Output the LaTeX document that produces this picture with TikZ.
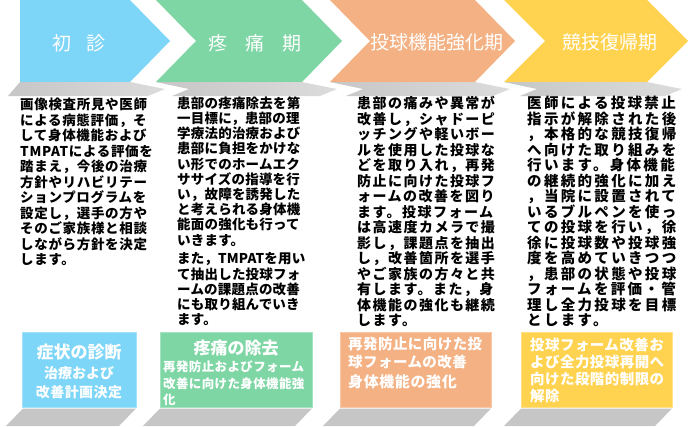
\documentclass[tikz,border=0pt]{standalone}
\usepackage{fontspec}
\newfontfamily\jp{Noto Sans CJK JP}
\definecolor{cblue}{HTML}{7DD5F7}
\definecolor{cgreen}{HTML}{7FD6A5}
\definecolor{corange}{HTML}{F4B183}
\definecolor{cyellow}{HTML}{FFD34F}
\definecolor{cgrayA}{HTML}{C6C6C6}
\definecolor{cgrayB}{HTML}{DCDCDC}
\newcommand\bodyfnt[3]{\jp\bfseries\fontsize{#1}{#2}\selectfont\addfontfeature{LetterSpace=#3}}
\newcommand\boxfnt[2]{\jp\bfseries\fontsize{#1}{#1}\selectfont\addfontfeature{LetterSpace=#2}}
\tikzset{
  shadowfill/.style={left color=cgrayA, right color=cgrayB, draw=none},
  floorfill/.style={fill=cgrayA, draw=none},
  titletext/.style={text=white, inner sep=0, font=\jp\fontsize{19}{22}\selectfont},
  bodytext/.style={anchor=north west, inner sep=0, align=left, text=black},
  boxtext/.style={text=white, inner sep=0},
  panel/.style={draw=#1!70!white, line width=0.6pt, fill=#1},
}
\begin{document}
\begin{tikzpicture}[x=1pt,y=-1pt]
\useasboundingbox (0,0) rectangle (690,426);
% chevrons
\fill[cblue]   (20,0) -- (130,0) -- (170,41) -- (130,82) -- (20,82) -- cycle;
\fill[cgreen]  (156,0) -- (302,0) -- (342,41) -- (302,82) -- (156,82) -- (196,41) -- cycle;
\fill[corange] (330,0) -- (475,0) -- (515,41) -- (475,82) -- (330,82) -- (370,41) -- cycle;
\fill[cyellow] (504,0) -- (647,0) -- (688,41) -- (647,82) -- (504,82) -- (545,41) -- cycle;
% chevron shadows
\shade[shadowfill] (20,82) -- (130,82) -- (165,89) -- (148,96) -- (8,96) -- cycle;
\shade[shadowfill] (156,82) -- (302,82) -- (337,89) -- (320,96) -- (172,96) -- (189,89) -- cycle;
\shade[shadowfill] (330,82) -- (475,82) -- (510,89) -- (493,96) -- (346,96) -- (363,89) -- cycle;
\shade[shadowfill] (504,82) -- (647,82) -- (682,89) -- (665,96) -- (520,96) -- (537,89) -- cycle;
% titles
\node[titletext] (t1) at (79,43) {初\hspace{15pt}診};
\node[titletext] (t2) at (255,43) {疼\hspace{18pt}痛\hspace{18pt}期};
\node[titletext] (t3) at (437,42) {投球機能強化期};
\node[titletext] (t4) at (610,42) {競技復帰期};
% body texts
\node[bodytext, font=\bodyfnt{13.5}{15.5}{5}] (b1) at (20,98) {画像検査所見や医師\\による病態評価，そ\\して身体機能および\\TMPATによる評価を\\踏まえ，今後の治療\\方針やリハビリテー\\ションプログラムを\\設定し，選手の方や\\そのご家族様と相談\\しながら方針を決定\\します。};
\node[bodytext, font=\bodyfnt{13.5}{15.2}{1.5}] (b2) at (177,96.5) {患部の疼痛除去を第\\一目標に，患部の理\\学療法的治療および\\患部に負担をかけな\\い形でのホームエク\\ササイズの指導を行\\い，故障を誘発した\\と考えられる身体機\\能面の強化も行って\\いきます。\\[3.5pt]また，TMPATを用い\\て抽出した投球フォ\\ームの課題点の改善\\にも取り組んでいき\\ます。};
\node[bodytext, font=\bodyfnt{14}{15.5}{10.5}] (b3) at (357,96.5) {患部の痛みや異常が\\改善し，シャドーピ\\ッチングや軽いボー\\ルを使用した投球な\\どを取り入れ，再発\\防止に向けた投球フ\\ォームの改善を図り\\ます。投球フォーム\\は高速度カメラで撮\\影し，課題点を抽出\\し，改善箇所を選手\\やご家族の方々と共\\有します。また，身\\体機能の強化も継続\\します。};
\node[bodytext, font=\bodyfnt{14.5}{15.5}{16}] (b4) at (527,96) {医師による投球禁止\\指示が解除された後\\，本格的な競技復帰\\へ向けた取り組みを\\行います。身体機能\\の継続的強化に加え\\，当院に設置されて\\いるブルペンを使っ\\ての投球を行い，徐\\徐に投球数や投球強\\度を高めていきつつ\\，患部の状態や投球\\フォームを評価・管\\理し全力投球を目標\\とします。};
% bottom panels
\draw[panel=cblue]   (22,332) rectangle (136,407);
\draw[panel=cgreen]  (160,332) rectangle (312,407);
\draw[panel=corange] (340,332) rectangle (491,407);
\draw[panel=cyellow] (521,332) rectangle (672,407);
% floor shadows
\fill[floorfill] (23,408.5) -- (136,408.5) -- (119,426) -- (6,426) -- cycle;
\fill[floorfill] (160,408.5) -- (312,408.5) -- (295,426) -- (143,426) -- cycle;
\fill[floorfill] (340,408.5) -- (491,408.5) -- (474,426) -- (323,426) -- cycle;
\fill[floorfill] (521,408.5) -- (672,408.5) -- (655,426) -- (504,426) -- cycle;
% panel texts
\node[boxtext, font=\boxfnt{17}{0}] (p1a) at (79,352) {症状の診断};
\node[boxtext, font=\boxfnt{14}{0}] (p1b) at (79,373) {治療および};
\node[boxtext, font=\boxfnt{14}{3}] (p1c) at (79,392) {改善計画決定};
\node[boxtext, font=\boxfnt{17}{0}] (p2a) at (236,348) {疼痛の除去};
\node[boxtext, anchor=west, font=\boxfnt{12.5}{3}] (p2b) at (163,367) {再発防止およびフォーム};
\node[boxtext, anchor=west, font=\boxfnt{12.5}{3}] (p2c) at (163,384) {改善に向けた身体機能強};
\node[boxtext, anchor=west, font=\boxfnt{12.5}{3}] (p2d) at (163,400) {化};
\node[boxtext, anchor=west, font=\boxfnt{14.5}{3}] (p3a) at (348,344) {再発防止に向けた投};
\node[boxtext, anchor=west, font=\boxfnt{14.5}{3}] (p3b) at (348,362) {球フォームの改善};
\node[boxtext, anchor=west, font=\boxfnt{15}{4}] (p3c) at (348,382) {身体機能の強化};
\node[boxtext, anchor=west, font=\boxfnt{14.5}{3}] (p4a) at (530,345) {投球フォーム改善お};
\node[boxtext, anchor=west, font=\boxfnt{14.5}{3}] (p4b) at (530,362) {よび全力投球再開へ};
\node[boxtext, anchor=west, font=\boxfnt{14.5}{3}] (p4c) at (530,379) {向けた段階的制限の};
\node[boxtext, anchor=west, font=\boxfnt{14.5}{3}] (p4d) at (530,396) {解除};
\end{tikzpicture}
\end{document}
